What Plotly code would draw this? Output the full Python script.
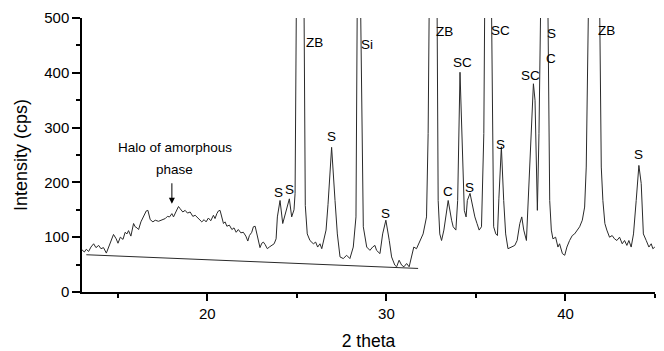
import plotly.graph_objects as go

# XRD pattern (2 theta, intensity in cps); values above 500 are clipped by the axis range
two_theta = [
    13.00, 13.13, 13.24, 13.37, 13.50, 13.65, 13.78, 13.93, 14.06, 14.20, 14.36, 14.48, 14.62, 14.76,
    14.91, 15.01, 15.14, 15.29, 15.41, 15.51, 15.60, 15.73, 15.88, 15.97, 16.07, 16.16, 16.29, 16.44,
    16.59, 16.68, 16.81, 16.96, 17.09, 17.27, 17.46, 17.65, 17.77, 17.89, 18.02, 18.11, 18.24, 18.39,
    18.48, 18.63, 18.76, 18.89, 19.04, 19.19, 19.32, 19.45, 19.60, 19.69, 19.82, 19.93, 20.06, 20.19,
    20.34, 20.43, 20.53, 20.62, 20.71, 20.81, 20.90, 20.99, 21.09, 21.23, 21.37, 21.49, 21.61, 21.73,
    21.87, 22.01, 22.15, 22.26, 22.35, 22.48, 22.57, 22.67, 22.76, 22.85, 22.94, 23.04, 23.13, 23.22,
    23.35, 23.46, 23.60, 23.73, 23.84, 23.91, 24.06, 24.21, 24.58, 24.71, 24.84, 24.90, 24.97, 25.17,
    25.40, 25.47, 25.58, 25.73, 25.92, 26.05, 26.16, 26.29, 26.39, 26.51, 26.63, 26.74, 26.94, 27.13,
    27.26, 27.41, 27.59, 27.78, 27.96, 28.15, 28.30, 28.37, 28.47, 28.56, 28.71, 28.90, 29.08, 29.23,
    29.36, 29.45, 29.64, 29.79, 29.97, 30.16, 30.29, 30.47, 30.57, 30.71, 30.85, 30.98, 31.13, 31.27,
    31.40, 31.53, 31.68, 31.87, 32.05, 32.24, 32.33, 32.39, 32.59, 32.83, 32.89, 32.98, 33.08, 33.21,
    33.45, 33.64, 33.73, 33.88, 33.98, 34.11, 34.24, 34.35, 34.45, 34.52, 34.67, 34.81, 34.94, 35.06,
    35.18, 35.31, 35.44, 35.49, 35.69, 35.87, 35.92, 35.99, 36.11, 36.20, 36.28, 36.42, 36.55, 36.66,
    36.79, 36.98, 37.17, 37.30, 37.45, 37.56, 37.67, 37.82, 38.00, 38.15, 38.21, 38.30, 38.38, 38.43,
    38.52, 38.60, 38.81, 39.02, 39.12, 39.21, 39.30, 39.45, 39.58, 39.67, 39.83, 39.96, 40.08, 40.23,
    40.38, 40.51, 40.64, 40.79, 40.94, 41.07, 41.16, 41.28, 41.57, 41.91, 42.00, 42.09, 42.20, 42.31,
    42.46, 42.61, 42.74, 42.87, 43.02, 43.17, 43.30, 43.43, 43.54, 43.67, 43.80, 43.95, 44.10, 44.23,
    44.35, 44.51, 44.66, 44.79, 44.88, 44.99,
]
intensity = [
    77, 73, 78, 74, 82, 88, 81, 85, 79, 81, 71, 82, 94, 105,
    97, 89, 100, 96, 109, 106, 112, 102, 125, 119, 117, 114, 128, 137,
    148, 149, 132, 128, 131, 129, 132, 134, 138, 137, 143, 137, 146, 156,
    152, 146, 149, 144, 146, 138, 140, 136, 132, 128, 132, 128, 135, 130,
    140, 134, 143, 148, 149, 137, 125, 128, 120, 122, 114, 117, 109, 114,
    108, 109, 102, 93, 103, 109, 119, 120, 106, 91, 81, 89, 91, 87,
    79, 82, 85, 88, 97, 137, 167, 125, 170, 137, 150, 180, 520, 900,
    520, 158, 106, 94, 88, 91, 82, 88, 79, 94, 113, 160, 264, 167,
    106, 64, 61, 67, 61, 82, 137, 520, 900, 520, 119, 82, 76, 82,
    85, 76, 70, 106, 131, 94, 64, 49, 46, 58, 49, 46, 52, 46,
    64, 82, 79, 94, 106, 137, 289, 520, 1000, 520, 167, 106, 94, 113,
    167, 131, 119, 113, 167, 401, 258, 149, 137, 167, 180, 155, 137, 125,
    113, 119, 289, 520, 1000, 520, 289, 119, 106, 103, 170, 265, 167, 106,
    79, 82, 85, 94, 125, 137, 113, 94, 228, 362, 380, 350, 228, 149,
    289, 520, 1000, 520, 167, 113, 97, 100, 82, 88, 70, 67, 82, 94,
    103, 106, 113, 119, 131, 155, 228, 520, 1200, 520, 228, 167, 125, 113,
    100, 103, 97, 94, 100, 88, 94, 85, 94, 82, 106, 167, 231, 198,
    106, 94, 82, 88, 79, 82,
]

# background line drawn under the amorphous halo
baseline_x = [13.24, 31.77]
baseline_y = [68, 43]

# phase labels
label_text = ["S", "S", "ZB", "S", "Si", "S", "ZB", "C", "SC", "S", "SC", "S", "SC", "S", "C", "ZB", "S"]
label_x = [23.97, 24.58, 25.96, 26.94, 28.93, 29.97, 33.26, 33.45, 34.23, 34.66, 36.37, 36.39, 38.06, 39.21, 39.21, 42.31, 44.10]
label_y = [182, 187, 455, 284, 451, 143, 476, 184, 418, 190, 478, 269, 395, 471, 427, 477, 251]

x_ticks = [20, 30, 40]
y_ticks = [0, 100, 200, 300, 400, 500]

font_family = "Arial, Liberation Sans, sans-serif"
line_col = "#2a2a2a"

fig = go.Figure()
fig.add_trace(go.Scatter(x=two_theta, y=intensity, mode="lines",
                         line=dict(color=line_col, width=1), showlegend=False, cliponaxis=True))
fig.add_trace(go.Scatter(x=baseline_x, y=baseline_y, mode="lines",
                         line=dict(color=line_col, width=1), showlegend=False))

annotations = []
for t, x, y in zip(label_text, label_x, label_y):
    annotations.append(dict(x=x, y=y, text=t, showarrow=False, xanchor="center", yanchor="middle",
                            font=dict(family=font_family, size=13.5, color="black")))
annotations.append(dict(x=18.19, y=264, text="Halo of amorphous", showarrow=False,
                        xanchor="center", yanchor="middle",
                        font=dict(family=font_family, size=13.5, color="black")))
annotations.append(dict(x=18.15, y=223, text="phase", showarrow=False,
                        xanchor="center", yanchor="middle",
                        font=dict(family=font_family, size=13.5, color="black")))
annotations.append(dict(x=18.02, y=161, text="", showarrow=True, ax=0, ay=-22,
                        arrowhead=2, arrowsize=1.2, arrowwidth=1, arrowcolor="black"))

fig.update_layout(
    width=664, height=351,
    margin=dict(l=82, r=9, t=17.5, b=59.3),
    paper_bgcolor="white", plot_bgcolor="white",
    font=dict(family=font_family, color="black"),
    annotations=annotations,
    xaxis=dict(
        range=[13, 45], tickvals=x_ticks, ticks="outside", ticklen=7, tickwidth=1.5, tickcolor="black",
        showline=True, linecolor="black", linewidth=1.5, showgrid=False, zeroline=False,
        automargin=False,
        tickfont=dict(size=15, family=font_family),
        title=dict(text="2 theta", font=dict(size=17.5, family=font_family), standoff=15),
        minor=dict(tickvals=[15, 25, 35, 45], ticks="outside", ticklen=4, tickwidth=1.5, tickcolor="black"),
    ),
    yaxis=dict(
        range=[0, 500], tickvals=y_ticks, ticks="outside", ticklen=8, tickwidth=1.5, tickcolor="black",
        showline=True, linecolor="black", linewidth=1.5, showgrid=False, zeroline=False,
        automargin=False,
        tickfont=dict(size=15, family=font_family),
        title=dict(text="Intensity (cps)", font=dict(size=18, family=font_family), standoff=12),
        minor=dict(tickvals=[50, 150, 250, 350, 450], ticks="outside", ticklen=4, tickwidth=1.5, tickcolor="black"),
    ),
)

fig.write_html("out.html", config={"displayModeBar": False},
               post_script="document.body.style.margin='0';")
